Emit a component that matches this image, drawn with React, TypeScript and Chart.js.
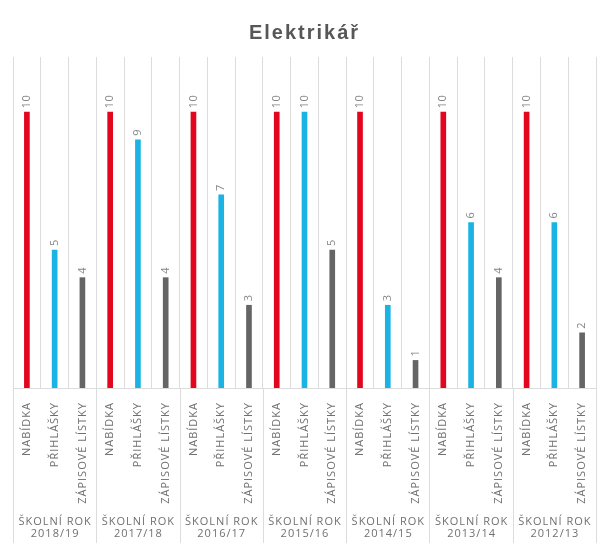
import React, { useEffect, useRef } from "react";
import { Chart, registerables } from "chart.js";

Chart.register(...registerables);

const title = "Elektrikář";
const categories = ["NABÍDKA", "PŘIHLÁŠKY", "ZÁPISOVÉ LÍSTKY"];
const groupPrefix = "ŠKOLNÍ ROK";
const years = ["2018/19", "2017/18", "2016/17", "2015/16", "2014/15", "2013/14", "2012/13"];
const nabidka = [10, 10, 10, 10, 10, 10, 10];
const prihlasky = [5, 9, 7, 10, 3, 6, 6];
const zapisove = [4, 4, 3, 5, 1, 4, 2];
const seriesColors = ["#e2071f", "#1ab3e3", "#656565"];

const seriesValues = [nabidka, prihlasky, zapisove];
const labels: string[] = [];
const values: number[] = [];
const barColors: string[] = [];
years.forEach((y, gi) => {
  categories.forEach((c, si) => {
    labels.push(y + " " + c);
    values.push(seriesValues[si][gi]);
    barColors.push(seriesColors[si]);
  });
});

const decorPlugin = {
  id: "decor",
  afterDraw(chart: any) {
    const ctx = chart.ctx as CanvasRenderingContext2D;
    const area = chart.chartArea;
    const xs = chart.scales.x;
    const meta = chart.getDatasetMeta(0);
    const base = area.bottom;

    // title
    ctx.save();
    ctx.fillStyle = "#575757";
    ctx.font = "bold 20px 'Liberation Sans', Arial, sans-serif";
    (ctx as any).letterSpacing = "2px";
    ctx.textAlign = "center";
    ctx.textBaseline = "middle";
    ctx.fillText(title, chart.width / 2 + 2, 33);
    ctx.restore();

    // value labels
    meta.data.forEach((bar: any, i: number) => {
      ctx.save();
      ctx.translate(bar.x, bar.y - 4);
      ctx.rotate(-Math.PI / 2);
      ctx.fillStyle = "#858585";
      ctx.font = "11px 'Open Sans', sans-serif";
      (ctx as any).letterSpacing = "0.5px";
      ctx.textAlign = "left";
      ctx.textBaseline = "middle";
      ctx.fillText(String(values[i]), 0, 0);
      ctx.restore();
    });

    // baseline
    ctx.save();
    ctx.strokeStyle = "#dcdcdc";
    ctx.lineWidth = 1;
    ctx.beginPath();
    ctx.moveTo(area.left, Math.round(base) + 0.5);
    ctx.lineTo(area.right, Math.round(base) + 0.5);
    ctx.stroke();
    ctx.restore();

    // category labels
    labels.forEach((_, i) => {
      const x = xs.getPixelForValue(i);
      const text = categories[i % categories.length];
      ctx.save();
      ctx.translate(x, base + 14);
      ctx.rotate(-Math.PI / 2);
      ctx.fillStyle = "#707070";
      ctx.font = "11px 'Open Sans', sans-serif";
      (ctx as any).letterSpacing = "1px";
      ctx.textAlign = "right";
      ctx.textBaseline = "middle";
      ctx.fillText(text, 0, 0);
      ctx.restore();
    });

    // group separators and labels
    const n = categories.length;
    const catW = (area.right - area.left) / labels.length;
    ctx.save();
    ctx.strokeStyle = "#dcdcdc";
    ctx.lineWidth = 1;
    for (let g = 0; g <= years.length; g++) {
      const x = Math.round(area.left + g * n * catW) + 0.5;
      ctx.beginPath();
      ctx.moveTo(x, base);
      ctx.lineTo(x, 543);
      ctx.stroke();
    }
    ctx.restore();

    years.forEach((y, g) => {
      const cx = area.left + (g + 0.5) * n * catW;
      ctx.save();
      ctx.fillStyle = "#707070";
      ctx.font = "11px 'Open Sans', sans-serif";
      (ctx as any).letterSpacing = "1px";
      ctx.textAlign = "center";
      ctx.textBaseline = "middle";
      ctx.fillText(groupPrefix, cx + 0.5, 522);
      ctx.fillText(y, cx + 0.5, 534);
      ctx.restore();
    });
  },
};

export default function App() {
  const ref = useRef<HTMLCanvasElement | null>(null);
  useEffect(() => {
    if (!ref.current) return;
    const chart = new Chart(ref.current, {
      type: "bar",
      data: {
        labels,
        datasets: [
          {
            data: values,
            backgroundColor: barColors,
            barThickness: 5,
            borderWidth: 0,
          },
        ],
      },
      options: {
        animation: false,
        responsive: false,
        maintainAspectRatio: false,
        layout: { padding: { top: 57, left: 13, right: 9, bottom: 165 } },
        plugins: {
          legend: { display: false },
          tooltip: { enabled: false },
          title: { display: false },
        },
        scales: {
          x: {
            display: true,
            offset: true,
            grid: { display: true, offset: true, color: "#dcdcdc", drawTicks: false, lineWidth: 1 },
            border: { display: false },
            ticks: { display: false },
          },
          y: {
            display: false,
            min: 0,
            max: 12,
          },
        },
      },
      plugins: [decorPlugin],
    });
    return () => chart.destroy();
  }, []);
  return (
    <div style={{ position: "fixed", left: 0, top: 0, width: 605, height: 553, background: "#fff" }}>
      <canvas ref={ref} width={605} height={553} style={{ width: 605, height: 553 }} />
    </div>
  );
}
